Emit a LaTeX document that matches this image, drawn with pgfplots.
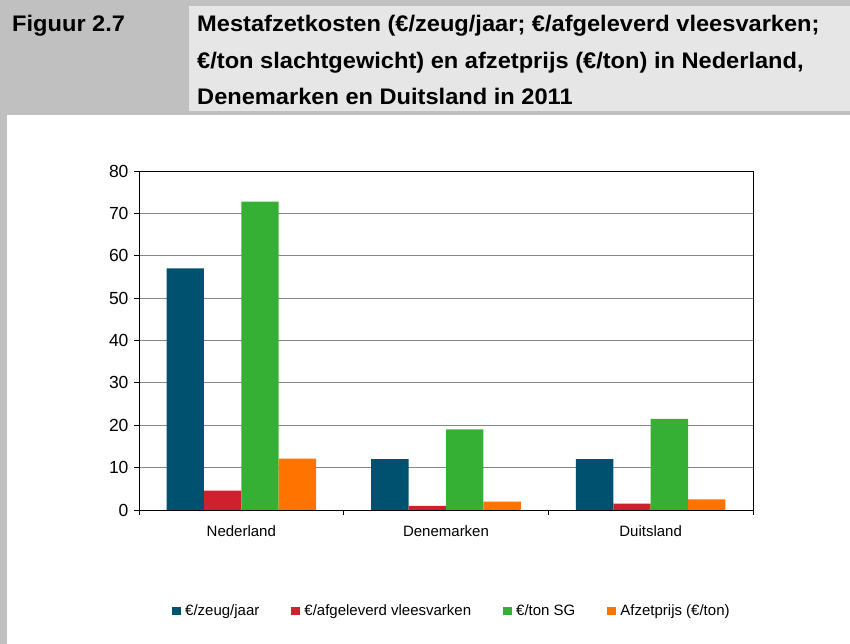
\documentclass[border=0pt]{standalone}
\usepackage{fontspec}
\setmainfont{Liberation Sans}
\newfontfamily\hdrfont[FakeStretch=1.05]{Liberation Sans}
\usepackage{pgfplots}
\pgfplotsset{compat=1.18}
\definecolor{hdrdark}{RGB}{192,192,192}
\definecolor{hdrlight}{RGB}{230,230,230}
\definecolor{cblue}{RGB}{0,80,112}
\definecolor{cred}{RGB}{206,32,46}
\definecolor{cgreen}{RGB}{54,176,52}
\definecolor{corange}{RGB}{255,115,0}
\definecolor{gridc}{RGB}{134,134,134}

\begin{document}
\begin{tikzpicture}[x=1pt,y=1pt]
% header and frame
\path (0,0) rectangle (850,644);
\fill[hdrdark] (0,529) rectangle (850,644);
\fill[hdrlight] (189,533) rectangle (850,638);
\fill[hdrdark] (0,0) rectangle (7,529);
\begin{scope}[every node/.style={anchor=base west,inner sep=0pt,font=\hdrfont\fontsize{22.5}{27}\selectfont\bfseries}]
\node at (12,612) {Figuur 2.7};
\node at (197,612) {Mestafzetkosten (€/zeug/jaar; €/afgeleverd vleesvarken;};
\node at (197,575.5) {€/ton slachtgewicht) en afzetprijs (€/ton) in Nederland,};
\node at (197,539) {Denemarken en Duitsland in 2011};
\end{scope}

\begin{axis}[at={(139pt,134pt)},anchor=south west,scale only axis,
  width=614pt,height=339pt,
  ybar=0pt,bar width=37.4pt,
  xmin=-0.5,xmax=2.5,ymin=0,ymax=80,
  ytick={0,10,...,80},
  xtick={0,1,2},xticklabels={Nederland,Denemarken,Duitsland},
  minor xtick={-0.5,0.5,1.5,2.5},
  major x tick style={draw=none},
  minor tick length=5pt,major tick length=5pt,
  tick align=outside,tick pos=left,
  ymajorgrids,grid style={gridc,line width=0.8pt},
  axis line style={black,line width=0.9pt},
  tick style={black,line width=0.8pt},
  /pgf/number format/assume math mode=true,
  yticklabel style={font=\fontsize{17.5}{20}\selectfont,xshift=-2pt},
  xticklabel style={font=\fontsize{15}{18}\selectfont,yshift=-7pt},
  legend style={at={(0.508,-0.298)},anchor=center,draw=none,
    legend columns=4,font=\fontsize{15}{18}\selectfont,
    nodes={inner sep=0pt},
    /tikz/every odd column/.style={column sep=4.5pt},
    /tikz/every even column/.style={column sep=32pt}},
  legend image code/.code={\fill[#1] (0pt,-4.25pt) rectangle (8.5pt,4.25pt);},
  ]
\addplot[fill=cblue,draw=none] coordinates {(0,57) (1,12) (2,12)};
\addplot[fill=cred,draw=none] coordinates {(0,4.6) (1,1.0) (2,1.5)};
\addplot[fill=cgreen,draw=none] coordinates {(0,72.8) (1,19) (2,21.5)};
\addplot[fill=corange,draw=none] coordinates {(0,12.1) (1,2.0) (2,2.5)};
\legend{€/zeug/jaar,€/afgeleverd vleesvarken,€/ton SG,Afzetprijs (€/ton)}
\end{axis}
\end{tikzpicture}
\end{document}
